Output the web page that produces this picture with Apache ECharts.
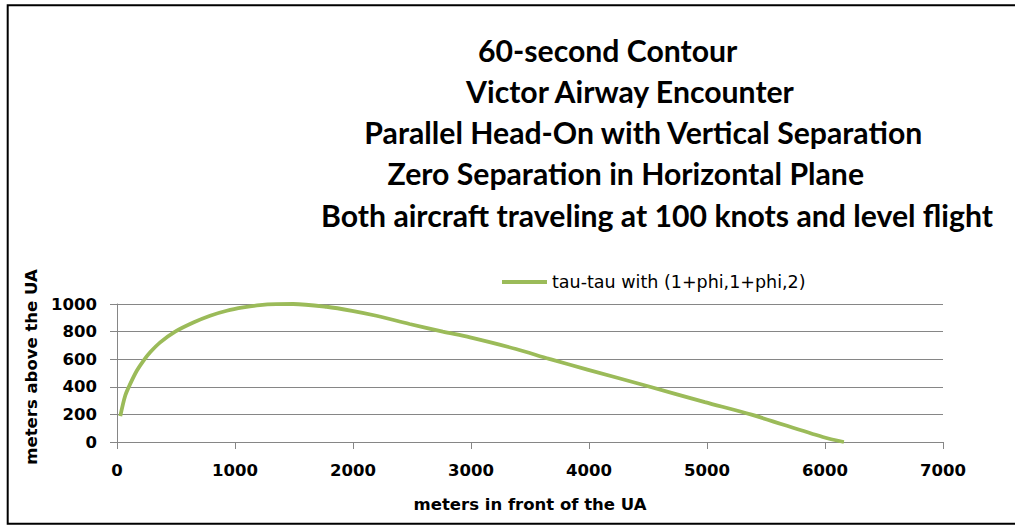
<!DOCTYPE html>
<html>
<head>
<meta charset="utf-8">
<script src="https://cdn.jsdelivr.net/npm/echarts@6/dist/echarts.min.js"></script>
<style>
html,body{margin:0;padding:0;background:#fff;}
#chart{width:1015px;height:525px;}
</style>
</head>
<body>
<div id="chart"></div>
<script>
// ---- data ----
var titleLines = [
  "60-second Contour",
  "Victor Airway Encounter",
  "Parallel Head-On with Vertical Separation",
  "Zero Separation in Horizontal Plane",
  "Both aircraft traveling at 100 knots and level flight"
];
var seriesName = "tau-tau with (1+phi,1+phi,2)";
var xName = "meters in front of the UA";
var yName = "meters above the UA";
var xValues = [28, 70, 112, 169, 225, 281, 366, 493, 647, 789, 930, 1070, 1211, 1350, 1493, 1775, 1992, 2198, 2479, 2761, 2992, 3381, 3663, 3986, 4508, 4982, 5377, 5981, 6160];
var yValues = [188, 337, 421, 518, 590, 650, 722, 800, 866, 915, 951, 975, 992, 999, 1000, 980, 951, 915, 855, 800, 758, 674, 602, 525, 402, 289, 198, 36, 0];
var xTicks = [0, 1000, 2000, 3000, 4000, 5000, 6000, 7000];
var yTicks = [0, 200, 400, 600, 800, 1000];

// ---- layout (per title line: left or right anchor, in px) ----
var titleAnchor = [{left: 478}, {left: 466}, {right: 91}, {right: 151}, {right: 22}];

var chart = echarts.init(document.getElementById('chart'), null, {renderer: 'svg'});
var pts = xValues.map(function (x, i) { return [x, yValues[i]]; });

var titles = titleLines.map(function (t, i) {
  return Object.assign({
    text: t, top: 29 + 41.25 * i, padding: 0,
    textStyle: {fontFamily: 'Lato', fontWeight: 'bold', fontSize: 30.2, lineHeight: 41.25, color: '#000'}
  }, titleAnchor[i]);
});

var tickFont = {fontFamily: 'DejaVu Sans', fontWeight: 'bold', fontSize: 16.5, color: '#000'};
var nameFont = {fontFamily: 'DejaVu Sans', fontWeight: 'bold', fontSize: 16.5, color: '#000'};
var plainNum = function (v) { return String(v); };

chart.setOption({
  animation: false,
  backgroundColor: '#fff',
  title: titles,
  legend: {
    data: [seriesName], left: 502, top: 273, padding: 0,
    icon: 'rect', itemWidth: 45, itemHeight: 4,
    textStyle: {fontFamily: 'DejaVu Sans', fontSize: 17.5, color: '#000'}
  },
  grid: {left: 117, right: 72, top: 304, bottom: 83},
  xAxis: {
    type: 'value', min: xTicks[0], max: xTicks[xTicks.length - 1], interval: 1000,
    name: xName, nameLocation: 'middle', nameGap: 54, nameTextStyle: nameFont,
    axisLine: {show: true, lineStyle: {color: '#868686', width: 1}},
    axisTick: {show: true, length: 7, lineStyle: {color: '#868686'}},
    axisLabel: {margin: 20, formatter: plainNum, ...tickFont},
    splitLine: {show: false}
  },
  yAxis: {
    type: 'value', min: yTicks[0], max: yTicks[yTicks.length - 1], interval: 200,
    name: yName, nameLocation: 'middle', nameGap: 71, nameRotate: 90,
    nameTextStyle: Object.assign({padding: [0, 0, 0, 12]}, nameFont),
    axisLine: {show: true, lineStyle: {color: '#868686', width: 1}},
    axisTick: {show: true, length: 7, lineStyle: {color: '#868686'}},
    axisLabel: {margin: 20, formatter: plainNum, ...tickFont},
    splitLine: {show: true, lineStyle: {color: '#868686', width: 1}}
  },
  series: [{
    name: seriesName, type: 'line', data: pts, smooth: 0.3,
    symbol: 'none', showSymbol: false,
    lineStyle: {color: '#9BBB59', width: 3.8}, itemStyle: {color: '#9BBB59'}
  }],
  graphic: [{
    type: 'rect', silent: true, z: 100,
    shape: {x: 7.7, y: 5.2, width: 1030, height: 518.5},
    style: {fill: 'none', stroke: '#000', lineWidth: 2}
  }]
});
</script>
</body>
</html>
